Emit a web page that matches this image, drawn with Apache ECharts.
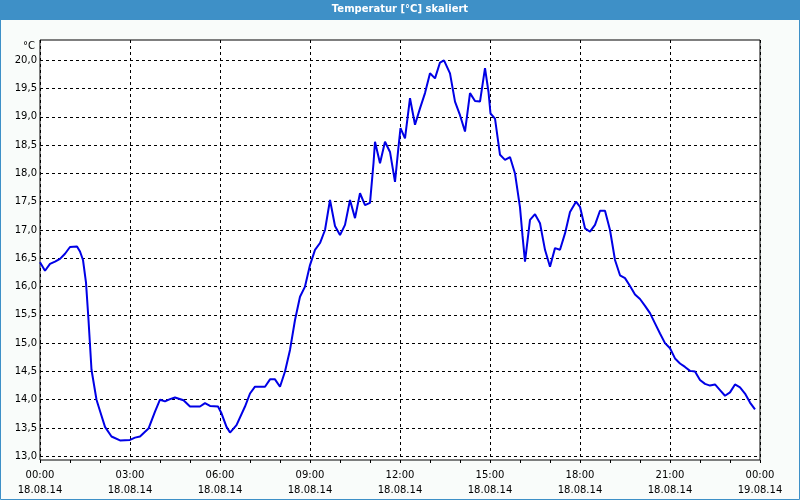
<!DOCTYPE html>
<html>
<head>
<meta charset="utf-8">
<script src="https://cdn.jsdelivr.net/npm/echarts@6/dist/echarts.min.js"></script>
<style>html,body{margin:0;padding:0;}#c{width:800px;height:500px;}</style>
</head>
<body>
<div id="c"></div>
<script>
// minutes since 00:00 18.08.14
var minutes = [0,10,20,30,40,50,60,74,80,86,92,97,103,113,120,130,143,160,180,190,200,217,230,240,250,260,270,287,300,320,330,340,356,363,373,380,393,410,420,430,450,460,470,480,490,500,510,520,530,540,550,560,570,580,590,600,610,620,630,640,650,660,667,670,680,690,700,710,717,721,730,740,750,760,770,780,790,800,808,820,830,840,850,860,870,880,890,897,901,910,920,930,940,950,960,965,970,980,990,1000,1010,1020,1030,1040,1050,1060,1072,1080,1090,1100,1110,1120,1130,1140,1150,1160,1170,1180,1190,1200,1210,1220,1230,1240,1250,1260,1270,1280,1290,1300,1310,1320,1330,1340,1350,1360,1370,1380,1390,1400,1410,1420,1430];
var temps = [16.43,16.28,16.40,16.44,16.49,16.58,16.70,16.71,16.62,16.47,16.07,15.41,14.53,14.00,13.80,13.52,13.35,13.28,13.29,13.33,13.35,13.49,13.79,14.00,13.97,14.01,14.04,13.99,13.88,13.88,13.94,13.89,13.88,13.76,13.52,13.42,13.55,13.88,14.11,14.23,14.23,14.36,14.36,14.23,14.50,14.88,15.41,15.82,16.00,16.38,16.65,16.77,17.00,17.53,17.07,16.91,17.09,17.53,17.21,17.65,17.44,17.48,18.18,18.56,18.18,18.56,18.38,17.85,18.47,18.80,18.62,19.33,18.86,19.15,19.42,19.77,19.68,19.96,20.00,19.77,19.27,19.03,18.74,19.42,19.28,19.27,19.86,19.44,19.06,18.97,18.33,18.24,18.29,18.00,17.40,16.90,16.44,17.18,17.28,17.12,16.65,16.35,16.68,16.65,16.94,17.32,17.50,17.41,17.03,16.97,17.09,17.34,17.34,17.00,16.47,16.20,16.15,16.01,15.86,15.78,15.66,15.53,15.35,15.17,15.00,14.91,14.73,14.64,14.58,14.51,14.50,14.35,14.28,14.25,14.27,14.17,14.07,14.13,14.27,14.22,14.11,13.95,13.83];
var dateLabels = ['18.08.14','19.08.14'];
var titleText = 'Temperatur [°C] skaliert';
var unitText = '°C';

var data = minutes.map(function(m,i){return [m, temps[i]];});
function pad(n){return (n<10?'0':'')+n;}
var FONT = 'DejaVu Sans';
var chart = echarts.init(document.getElementById('c'), null, {renderer:'canvas'});
chart.setOption({
  animation:false,
  backgroundColor:'#F9FCFA',
  title:{text:titleText,left:'center',top:1,itemGap:0,padding:[2,5,2,5],
    textStyle:{color:'#ffffff',fontFamily:FONT,fontSize:10,fontWeight:'bold',lineHeight:12}},
  graphic:[
    {type:'rect',z:-1,shape:{x:0,y:0,width:800,height:20},style:{fill:'#3E90C7'}},
    {type:'rect',z:100,shape:{x:0.5,y:0.5,width:799,height:499},style:{fill:null,stroke:'#3E90C7',lineWidth:1}}
  ],
  grid:[
    {left:40,top:40,width:720,height:420,show:true,backgroundColor:'#ffffff',borderColor:'#000000',borderWidth:1},
    {left:40,top:60.3,width:720,height:396}
  ],
  xAxis:[
    {type:'value',gridIndex:0,min:0,max:1440,interval:180,
      axisLine:{show:false},
      axisTick:{show:true,length:3,lineStyle:{color:'#000'}},
      minorTick:{show:true,splitNumber:3,length:3,lineStyle:{color:'#000'}},
      splitLine:{show:true,lineStyle:{color:'#000',type:[3,3],width:1}},
      axisLabel:{margin:8,color:'#000',fontFamily:FONT,fontSize:10,lineHeight:15,
        formatter:function(v){var d=Math.floor(v/1440);var m=v%1440;return pad(Math.floor(m/60))+':'+pad(m%60)+'\n'+dateLabels[d];}}},
    {type:'value',gridIndex:1,min:0,max:1440,show:false}
  ],
  yAxis:[
    {type:'value',gridIndex:0,min:0,max:1,show:false,splitLine:{show:false}},
    {type:'value',gridIndex:1,min:13,max:20,interval:0.5,
      name:unitText,nameLocation:'end',nameGap:14,
      nameTextStyle:{color:'#000',fontFamily:FONT,fontSize:10,align:'right',verticalAlign:'middle',padding:[0,5,0,0]},
      axisLine:{show:false},axisTick:{show:false},
      splitLine:{show:true,lineStyle:{color:'#000',type:[3,3],width:1}},
      axisLabel:{margin:3,color:'#000',fontFamily:FONT,fontSize:10,padding:[3,0,0,0],
        formatter:function(v){return v.toFixed(1).replace('.',',');}}}
  ],
  series:[{type:'line',xAxisIndex:1,yAxisIndex:1,data:data,showSymbol:false,clip:false,
    lineStyle:{color:'#0000E6',width:2},itemStyle:{color:'#0000E6'}}]
});
</script>
</body>
</html>
